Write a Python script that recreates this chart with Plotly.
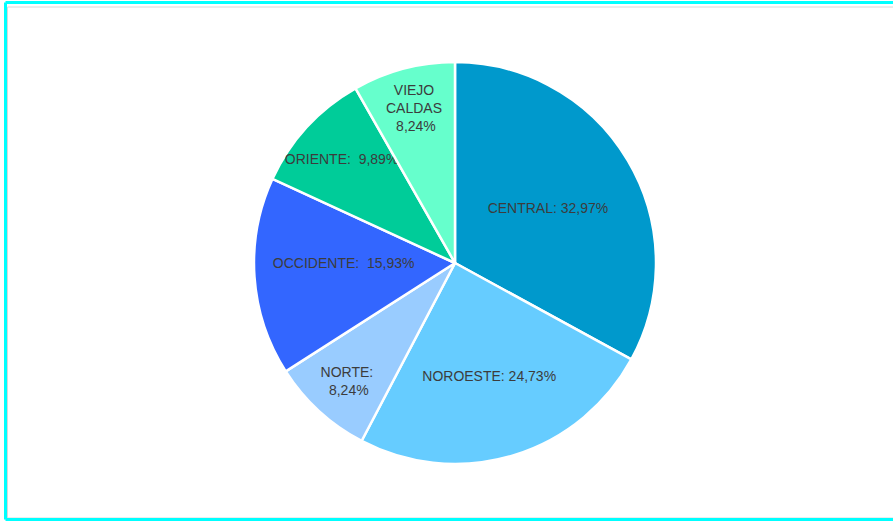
import plotly.graph_objects as go

labels = ["CENTRAL", "NOROESTE", "NORTE", "OCCIDENTE", "ORIENTE", "VIEJO CALDAS"]
values = [60, 45, 15, 29, 18, 15]
colors = ["#0099CC", "#66CCFF", "#99CCFF", "#3366FF", "#00CC99", "#66FFCC"]
label_text = ["CENTRAL:", "NOROESTE:", "NORTE:<br>", "OCCIDENTE:&nbsp;", "ORIENTE:&nbsp;", "VIEJO<br>CALDAS<br>"]

W, H = 893, 521
cx, cy, r = 455, 263, 201

fig = go.Figure(go.Pie(
    labels=labels,
    values=values,
    customdata=label_text,
    sort=False,
    direction="clockwise",
    rotation=0,
    marker=dict(colors=colors, line=dict(color="white", width=2.5)),
    texttemplate="%{customdata} %{percent:.2%}",
    textposition="inside",
    insidetextorientation="horizontal",
    textfont=dict(family="Liberation Sans, Arial, sans-serif", size=14, color="#3c3c3c"),
    hoverinfo="label+percent",
    domain=dict(x=[(cx - r) / W, (cx + r) / W], y=[1 - (cy + r) / H, 1 - (cy - r) / H]),
    showlegend=False,
))


def frame_lines(xl, yt, yb, color, width):
    xl, yt, yb = xl / W, 1 - yt / H, 1 - yb / H
    base = dict(type="line", xref="paper", yref="paper", line=dict(color=color, width=width))
    return [
        dict(base, x0=xl, x1=1.2, y0=yt, y1=yt),
        dict(base, x0=xl, x1=1.2, y0=yb, y1=yb),
        dict(base, x0=xl, x1=xl, y0=yb, y1=yt),
    ]


fig.update_layout(
    width=W, height=H,
    margin=dict(l=0, r=0, t=0, b=0),
    paper_bgcolor="white",
    separators=",.",
    uniformtext=dict(minsize=14, mode="show"),
    shapes=frame_lines(7.5, 7, 518, "#D8D8D8", 1) + frame_lines(5.5, 2.5, 519.5, "#00FFFF", 3),
)

fig.write_html("out.html", config={"displayModeBar": False},
               post_script="document.body.style.margin='0';document.body.style.overflow='hidden';")
